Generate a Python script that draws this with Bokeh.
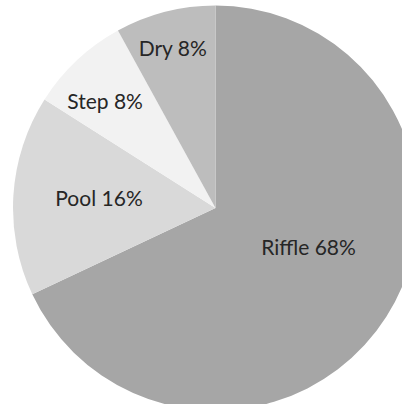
import numpy as np
from bokeh.plotting import figure
from bokeh.models import Range1d, ColumnDataSource
from bokeh.core.properties import value
from bokeh.embed import file_html
from bokeh.resources import INLINE

categories = ["Riffle", "Pool", "Step", "Dry"]
percents = [68, 16, 8, 8]
colors = ["#a6a6a6", "#d9d9d9", "#f2f2f2", "#bdbdbd"]

# layout (label placement along each slice's bisector)
label_r_frac = [0.496, 0.578, 0.763, 0.827]
label_angle_shift = [-10.2, 2.0, -2.4, -0.3]

W, H = 402, 404
cx, cy, R = 215.0, H - 207.5, 202.5

vals = np.array(percents, dtype=float)
frac = vals / vals.sum()
cum_end = np.cumsum(frac)
cum_start = cum_end - frac
# clockwise from 12 o'clock -> bokeh angles (ccw from +x)
start_ang = np.deg2rad(90 - cum_end * 360)
end_ang = np.deg2rad(90 - cum_start * 360)

mid_cw = (cum_start + cum_end) / 2 * 360 + np.array(label_angle_shift)
lr = np.array(label_r_frac) * R
lx = cx + lr * np.sin(np.deg2rad(mid_cw))
ly = cy + lr * np.cos(np.deg2rad(mid_cw)) - 1
labels = [f"{c} {v}%" for c, v in zip(categories, percents)]

src = ColumnDataSource(dict(start=start_ang, end=end_ang, color=colors,
                            lx=lx, ly=ly, label=labels))

p = figure(width=W, height=H, x_range=Range1d(0, W), y_range=Range1d(0, H),
           output_backend="svg", toolbar_location=None, min_border=0)
p.axis.visible = False
p.grid.visible = False
p.outline_line_color = None
p.background_fill_color = "white"
p.border_fill_color = "white"

p.wedge(x=cx, y=cy, radius=R, start_angle="start", end_angle="end",
        fill_color="color", line_color=None, source=src)
p.text(x="lx", y="ly", text="label", source=src, text_align="center",
       text_baseline="middle", text_font=value("Lato"),
       text_font_size="21px", text_color="#262626")

open("out.html", "w").write(file_html(p, INLINE))
